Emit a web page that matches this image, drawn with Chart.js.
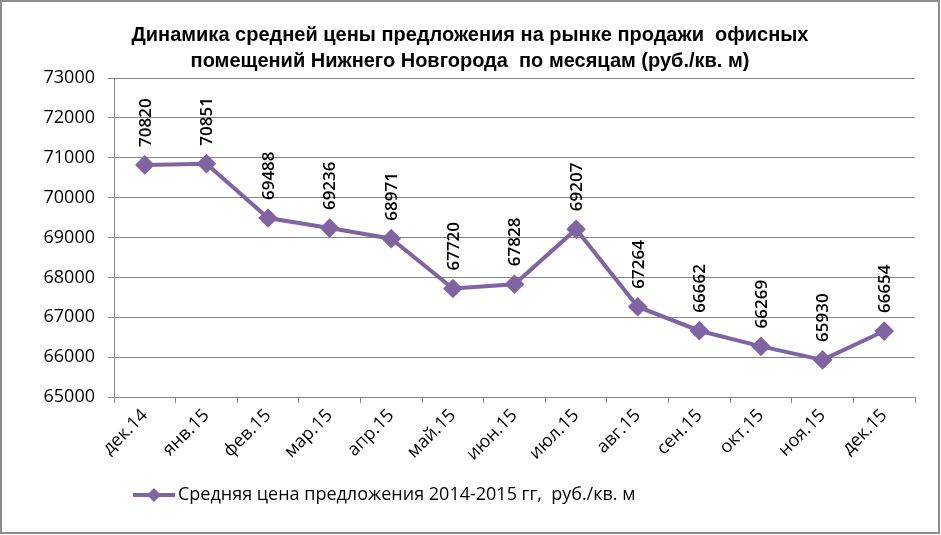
<!DOCTYPE html>
<html>
<head>
<meta charset="utf-8">
<script src="https://cdn.jsdelivr.net/npm/chart.js@4"></script>
<style>
  html, body { margin: 0; padding: 0; background: #fff; }
  #wrap { width: 941px; height: 535px; position: relative; }
</style>
</head>
<body>
<div id="wrap"><canvas id="chart"></canvas></div>
<script>
var months = ["дек.14", "янв.15", "фев.15", "мар.15", "апр.15", "май.15", "июн.15", "июл.15", "авг.15", "сен.15", "окт.15", "ноя.15", "дек.15"];
var prices = [70820, 70851, 69488, 69236, 68971, 67720, 67828, 69207, 67264, 66662, 66269, 65930, 66654];
var titleLines = ["Динамика средней цены предложения на рынке продажи  офисных", "помещений Нижнего Новгорода  по месяцам (руб./кв. м)"];
var seriesName = "Средняя цена предложения 2014-2015 гг,  руб./кв. м";

var purple = "#8064A2";
var gridGray = "#868686";

// frame, title, value labels and legend drawn on the canvas
var extras = {
  id: 'extras',
  beforeDraw: function (chart) {
    var ctx = chart.ctx;
    ctx.save();
    ctx.fillStyle = '#fff';
    ctx.fillRect(0, 0, chart.width, chart.height);
    ctx.strokeStyle = '#8c8c8c';
    ctx.lineWidth = 2;
    ctx.strokeRect(1, 1, chart.width - 3, chart.height - 3);
    ctx.restore();
  },
  afterDraw: function (chart) {
    var ctx = chart.ctx;
    ctx.save();
    // title
    ctx.fillStyle = '#000';
    ctx.textAlign = 'center';
    ctx.textBaseline = 'middle';
    ctx.font = 'bold 20px "Liberation Sans Narrow", "Liberation Sans", sans-serif';
    ctx.fillText(titleLines[0], 470, 35);
    ctx.fillText(titleLines[1], 470, 61);

    // value labels, rotated
    var meta = chart.getDatasetMeta(0);
    ctx.font = '600 17px "Open Sans", sans-serif';
    ctx.textAlign = 'left';
    meta.data.forEach(function (pt, i) {
      ctx.save();
      ctx.translate(pt.x, pt.y - 18);
      ctx.rotate(-Math.PI / 2);
      ctx.fillText(String(prices[i]), 0, 1);
      ctx.restore();
    });

    // legend
    var ly = 495;
    ctx.strokeStyle = purple;
    ctx.lineWidth = 4;
    ctx.beginPath();
    ctx.moveTo(133, ly);
    ctx.lineTo(175, ly);
    ctx.stroke();
    ctx.fillStyle = purple;
    ctx.beginPath();
    ctx.moveTo(154, ly - 7);
    ctx.lineTo(161, ly);
    ctx.lineTo(154, ly + 7);
    ctx.lineTo(147, ly);
    ctx.closePath();
    ctx.fill();
    ctx.fillStyle = '#000';
    ctx.font = '18px "Open Sans", sans-serif';
    ctx.textBaseline = 'middle';
    ctx.fillText(seriesName, 178, ly);
    ctx.restore();
  }
};

new Chart('chart', {
  type: 'line',
  data: {
    labels: months,
    datasets: [{
      label: seriesName,
      data: prices,
      borderColor: purple,
      backgroundColor: purple,
      borderWidth: 4,
      pointStyle: 'rectRot',
      pointRadius: 7,
      pointHoverRadius: 7,
      tension: 0
    }]
  },
  options: {
    responsive: true,
    maintainAspectRatio: false,
    animation: false,
    layout: { padding: { left: 0, right: 26, top: 78, bottom: 0 } },
    plugins: {
      legend: { display: false },
      title: { display: false },
      tooltip: { enabled: false }
    },
    scales: {
      x: {
        offset: true,
        grid: {
          offset: true,
          drawOnChartArea: false,
          drawTicks: true,
          tickLength: 6,
          color: gridGray
        },
        border: { color: gridGray, width: 1 },
        ticks: {
          minRotation: 45,
          maxRotation: 45,
          padding: 2,
          color: '#000',
          font: { family: '"Open Sans", sans-serif', size: 18 }
        },
        afterFit: function (scale) { scale.height = 138; }
      },
      y: {
        min: 65000,
        max: 73000,
        ticks: {
          stepSize: 1000,
          padding: 13,
          color: '#000',
          font: { family: '"Open Sans", sans-serif', size: 18 },
          callback: function (v) { return String(v); }
        },
        grid: {
          color: gridGray,
          tickLength: 6,
          drawTicks: true
        },
        border: { color: gridGray, width: 1 },
        afterFit: function (scale) { scale.width = 114; }
      }
    }
  },
  plugins: [extras]
});
</script>
</body>
</html>
